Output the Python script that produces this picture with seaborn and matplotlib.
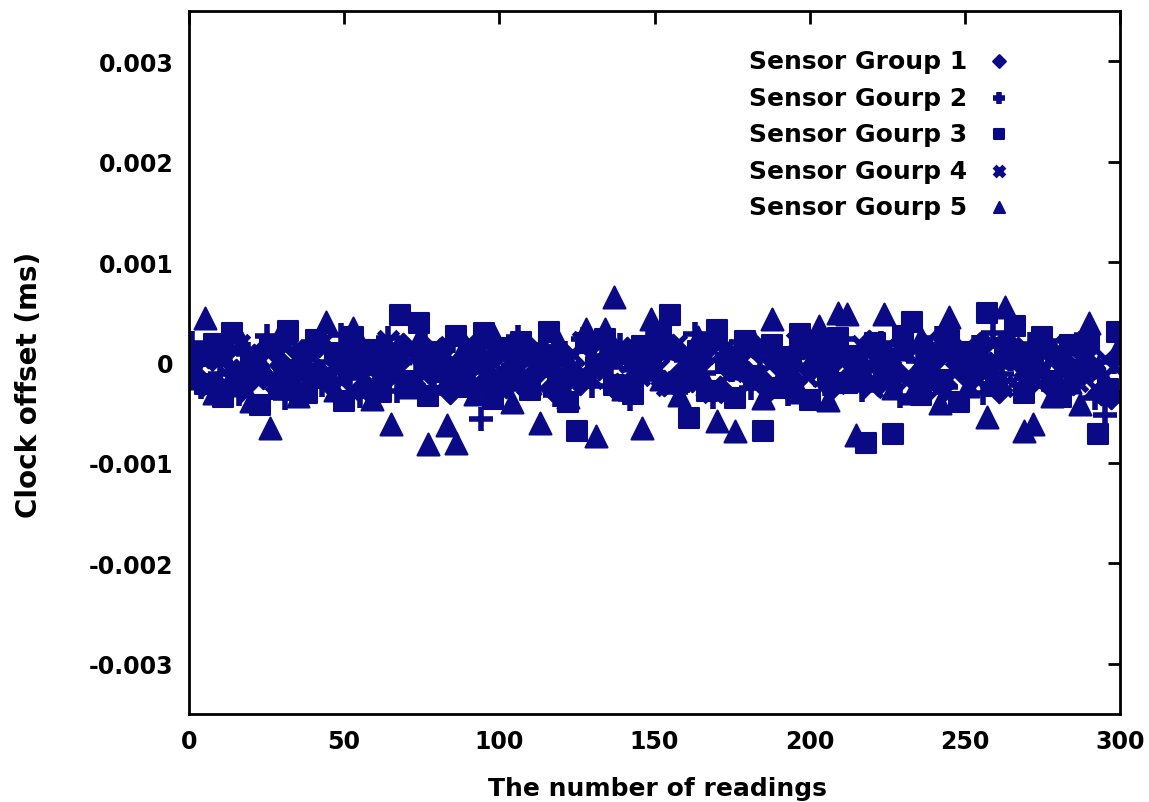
import numpy as np
import pandas as pd
import matplotlib
matplotlib.use("Agg")
import matplotlib.pyplot as plt
import seaborn as sns

# readings (every 3rd reading per group, groups interleaved) and clock offsets in 1e-4 ms
readings = list(range(0, 300, 3))
reading_shift = [0, 1, 2, 1, 2]

group1 = [-0.4, -1.6, 0.7, -2.3, 1.2, -0.9, -2.0, 0.5, -1.3, 1.5,
          -0.2, -2.6, 0.9, -1.1, 1.8, -1.9, 0.1, -0.7, 1.3, -2.4,
          0.6, -1.5, -0.3, 1.6, -2.1, 0.4, -1.0, 1.1, -2.8, 0.0,
          -0.6, 1.9, -1.7, 0.8, -2.2, -0.1, 1.4, -1.2, 0.3, -2.5,
          1.0, -0.8, -1.9, 1.7, -0.4, 0.5, -2.3, 1.2, -1.4, -0.2,
          0.9, -2.0, 1.5, -0.9, -1.6, 0.2, 1.8, -2.6, -0.5, 0.7,
          -1.1, 1.3, -2.2, 0.4, -0.7, -1.8, 1.6, -0.3, 0.8, -2.4,
          1.1, -1.3, -0.1, 1.9, -2.0, 0.6, -1.0, 1.4, -1.7, -0.4,
          0.3, -2.1, 1.0, -0.8, -1.5, 1.7, -0.2, -2.7, 0.5, 1.2,
          -1.2, -0.6, 1.5, -2.2, 0.1, -1.9, 1.0, -0.5, -2.9, -3.3]

group2 = [1.9, -2.4, 0.5, -1.1, 2.2, -3.1, 0.8, -0.3, 2.6, -1.9,
          -3.5, 1.3, -0.8, 2.0, -2.2, 0.1, 2.7, -1.5, -3.3, 1.0,
          -0.6, 2.4, -2.8, 0.7, -1.3, 1.8, -3.0, 0.2, 2.1, -2.0,
          -0.9, -5.6, 1.5, -1.7, 0.4, 2.5, -2.6, -0.1, 1.1, -3.2,
          0.9, -1.2, 2.3, -2.3, 0.6, -0.4, 1.7, -3.6, 0.0, 2.2,
          -1.6, 1.2, -2.9, 0.3, 2.8, -1.0, -3.4, 1.4, -0.7, 2.0,
          -2.5, 0.8, 1.6, -1.8, -3.1, 0.5, 2.6, -0.2, -2.1, 1.0,
          2.3, -1.4, -2.7, 0.6, 1.9, -0.9, -3.3, 1.3, 0.2, -1.9,
          2.4, -2.4, 0.7, -0.5, 1.5, -3.0, 2.9, -1.1, 0.4, -2.2,
          1.8, -0.3, 2.1, -2.8, 0.9, -1.5, 2.7, -3.5, -5.2, 0.1]

group3 = [0.6, -2.1, 1.8, -3.4, 2.9, -1.2, 0.3, -4.2, 1.5, -2.6,
          3.1, -0.7, -3.0, 2.2, -1.5, 0.9, -3.8, 2.5, -0.2, 1.2,
          -2.9, 0.4, 4.7, -1.8, 3.9, -3.3, 1.0, -0.9, 2.6, -2.4,
          0.1, 2.9, -3.6, 1.4, -1.1, 2.0, -2.7, 0.7, 3.0, -1.6,
          -3.9, -6.8, 1.9, -0.4, 2.3, -2.2, 0.8, -3.1, 1.6, -0.6,
          2.7, 4.7, -1.9, -5.5, 1.1, -2.8, 3.2, 0.0, -3.5, 2.1,
          -1.3, -6.8, 1.7, -2.5, 0.5, 2.8, -3.7, 1.3, -0.8, 2.4,
          -2.0, 0.6, -8.0, 1.9, -1.4, -7.1, 2.6, 4.0, -3.2, 0.9,
          -1.7, 2.2, -3.9, 1.0, -0.5, 4.9, -2.3, 1.4, 3.6, -3.0,
          0.3, 2.5, -1.8, -3.4, 1.7, -0.7, 2.0, -7.1, -2.6, 3.0]

group4 = [-0.8, 1.0, -2.2, 0.3, -1.4, 1.7, -2.9, -0.2, 0.9, -1.8,
          1.4, -0.5, -2.5, 0.6, 1.9, -1.2, -0.1, -2.7, 1.2, 0.0,
          -1.6, 2.1, -0.7, -2.3, 0.8, -1.1, 1.5, -2.0, 0.2, -0.9,
          1.8, -2.6, 0.4, -1.3, 1.1, -0.3, -2.1, 1.6, -1.0, 0.5,
          -2.8, 0.7, 2.0, -1.5, -0.4, 1.3, -2.4, 0.1, -1.2, 1.0,
          -0.6, -2.2, 1.7, 0.3, -1.7, 0.9, -2.9, 1.2, -0.8, 0.4,
          -1.9, 1.5, -0.2, -2.6, 0.6, 1.9, -1.3, -0.5, 1.1, -2.0,
          0.2, -1.1, 1.6, -2.4, 0.8, -0.7, 1.3, -1.6, -0.1, 2.2,
          -2.7, 0.5, -0.9, 1.4, -1.4, 0.0, 1.8, -2.3, 0.7, -1.0,
          1.0, -2.1, 0.3, -0.6, 1.6, -1.8, 0.9, -2.5, 0.4, -0.3]

group5 = [-1.5, 4.4, -3.0, 0.8, -2.2, 1.9, -3.8, 0.2, -6.5, 2.6,
          -1.0, -3.3, 1.2, -0.6, 4.0, -2.7, 0.5, 3.4, -1.8, -3.6,
          1.5, -6.1, 0.9, -2.4, 2.3, -8.1, -0.3, -6.2, -8.0, 1.7,
          -3.1, 0.4, 2.8, -1.4, -3.9, 1.0, -2.0, -6.0, 0.6, 2.1,
          -3.4, -0.8, 3.3, -7.3, 3.3, 6.5, -2.6, 0.3, -6.5, 4.3,
          -1.6, 1.4, -3.2, 0.7, 2.5, -2.1, -5.8, 1.1, -6.8, -0.5,
          2.0, -3.5, 4.3, -1.1, 0.9, -2.9, 1.8, 3.6, -3.7, 4.9,
          4.8, -7.2, -1.3, 0.2, 4.8, -2.5, 1.3, -3.0, 2.4, -0.9,
          -4.0, 4.5, 0.1, -2.3, 1.6, -5.4, -1.7, 5.5, 0.5, -6.8,
          -6.1, 2.2, -3.3, 0.8, -1.9, -4.1, 3.9, -0.4, -2.8, 1.2]

labels = ["Sensor Group 1", "Sensor Gourp 2", "Sensor Gourp 3",
          "Sensor Gourp 4", "Sensor Gourp 5"]
series = [group1, group2, group3, group4, group5]

sns.set_style("white")
plt.rcParams['font.family'] = ['DejaVu Sans']
plt.rcParams['text.color'] = 'black'
plt.rcParams['xtick.color'] = 'black'
plt.rcParams['ytick.color'] = 'black'
plt.rcParams['axes.labelcolor'] = 'black'

navy = "#0a0a86"
styles = [
    dict(marker="D", s=170, edgecolor=navy, linewidth=1.5),
    dict(marker="+", s=300, linewidth=4),
    dict(marker="s", s=220, edgecolor=navy, linewidth=1.5),
    dict(marker="x", s=200, linewidth=4),
    dict(marker="^", s=250, edgecolor=navy, linewidth=1.5),
]

fig = plt.figure(figsize=(11.49, 8.03), dpi=100)
ax = fig.add_axes([0.1645, 0.1096, 0.8103, 0.8754])

for lab, vals, st, sh in zip(labels, series, styles, reading_shift):
    df = pd.DataFrame({"reading": np.array(readings) + sh,
                       "offset": np.array(vals) * 1e-4})
    sns.scatterplot(data=df, x="reading", y="offset", color=navy, ax=ax,
                    label=lab, **st)

ax.set_xlim(0, 300)
ax.set_ylim(-0.0035, 0.0035)
ax.set_xticks([0, 50, 100, 150, 200, 250, 300])
ax.set_yticks([-0.003, -0.002, -0.001, 0, 0.001, 0.002, 0.003])
ax.set_yticklabels(["-0.003", "-0.002", "-0.001", "0", "0.001", "0.002", "0.003"])

for sp in ax.spines.values():
    sp.set_color("black")
    sp.set_linewidth(2)
ax.tick_params(direction="in", length=9, width=2, top=True, right=True,
               labelsize=17, pad=11)
for t in ax.get_xticklabels() + ax.get_yticklabels():
    t.set_fontweight("bold")

ax.set_xlabel("The number of readings", fontsize=18, fontweight="bold")
ax.set_ylabel("Clock offset (ms)", fontsize=20, fontweight="bold")
ax.xaxis.set_label_coords(0.503, -0.088)
ax.yaxis.set_label_coords(-0.157, 0.47)

leg = ax.legend(loc="upper right", bbox_to_anchor=(0.914, 0.978), frameon=False,
                markerfirst=False, markerscale=0.5,
                prop={"weight": "bold", "size": 18}, labelspacing=0.5,
                handletextpad=0.5, handlelength=1.5)

fig.savefig("out.png", dpi=100)
